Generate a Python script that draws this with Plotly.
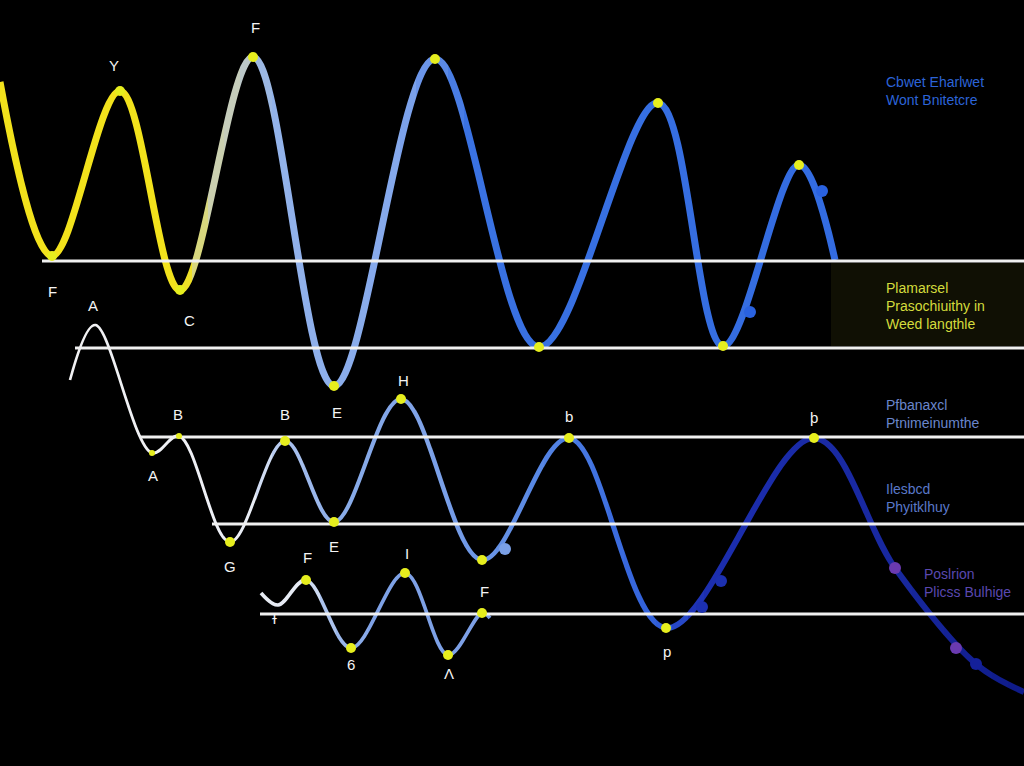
import plotly.graph_objects as go

# ---- data (pixel-space positions) ----
# upper wave: turning points
c1_x = [0, 52, 120, 180, 253, 334, 435, 539, 658, 723, 799, 835]
c1_y = [82, 256, 91, 290, 57, 386, 59, 347, 103, 346, 165, 260]
# colour stops along x (styling only)
c1_stops = [(0, "#f2e21c"), (182, "#f2e21c"), (208, "#cdd2aa"), (245, "#c2cbc4"), (268, "#94b4ea"),
            (400, "#84a8ec"), (470, "#3a72e2"), (1024, "#2f68e0")]

# middle wave
c2_x = [70, 95, 152, 179, 230, 285, 334, 401, 482, 569, 666, 814, 895, 976, 1024]
c2_y = [380, 325, 453, 436, 542, 441, 522, 399, 560, 438, 628, 438, 568, 664, 692]
c2_stops = [(0, "#f2f2f2"), (245, "#eef0f6"), (290, "#aac2ee"), (340, "#8aace8"), (430, "#7ea2e8"),
            (530, "#5a8ae4"), (610, "#3c6ee0"), (665, "#2f5cd8"), (700, "#1c2eb0"), (900, "#18289e"),
            (1024, "#0e1a88")]
c2_width = [(0, 2.5), (250, 3), (320, 4), (600, 5), (700, 6), (1024, 6)]

# lower small wave
c3_x = [261, 278, 306, 351, 405, 448, 482, 490]
c3_y = [593, 605, 580, 648, 573, 655, 613, 618]
c3_stops = [(0, "#eeeeee"), (300, "#e6ebf4"), (330, "#a8c0ec"), (370, "#7fa2e6"), (1024, "#6f96e4")]

# horizontal guide lines
rule_y = [261, 348, 437, 524, 614]
rule_x0 = [42, 75, 140, 212, 260]

# yellow markers at turning points
dot_x = [52, 120, 180, 253, 334, 435, 539, 658, 723, 799,
         230, 285, 334, 401, 482, 569, 666, 814,
         306, 351, 405, 448, 482]
dot_y = [256, 91, 290, 57, 386, 59, 347, 103, 346, 165,
         542, 441, 522, 399, 560, 438, 628, 438,
         580, 648, 573, 655, 613]
small_dot_x = [152, 179]
small_dot_y = [453, 436]

# coloured markers along the lines
mark_x = [750, 822, 505, 702, 721, 895, 956, 976]
mark_y = [312, 191, 549, 607, 581, 568, 648, 664]
mark_c = ["#2a62e0", "#2a62e0", "#7aa0e6", "#1c30b0", "#1c30b0", "#6a3ab0", "#6a3ab0", "#14209a"]

# letter labels
lbl_text = ["F", "Y", "F", "A", "C", "E", "H", "B", "A", "B", "E", "G", "F", "I", "6", "Λ", "F", "b", "þ", "p", "ɫ"]
lbl_x = [255, 114, 52, 93, 189, 337, 403, 178, 153, 285, 334, 230, 307, 407, 351, 449, 484, 569, 814, 667, 274]
lbl_y = [27, 66, 291, 305, 320, 412, 380, 414, 475, 414, 546, 566, 557, 553, 664, 673, 591, 416, 418, 651, 618]

# right side captions
cap_text = ["Cbwet Eharlwet<br>Wont Bnitetcre",
            "Plamarsel<br>Prasochiuithy in<br>Weed langthle",
            "Pfbanaxcl<br>Ptnimeinumthe",
            "Ilesbcd<br>Phyitklhuy",
            "Poslrion<br>Plicss Bulhige"]
cap_x = [884, 884, 884, 884, 922]
cap_y = [91, 306, 414, 498, 583]
cap_c = ["#2c64d8", "#d4dc3c", "#6a86cc", "#5a78c8", "#5a48b0"]

W, H = 1024, 766
BAND = 16


def mix(stops, x):
    # piecewise colour blend between stops
    def rgb(h):
        return [int(h[i:i + 2], 16) for i in (1, 3, 5)]
    for (x0, c0), (x1, c1) in zip(stops, stops[1:]):
        if x0 <= x <= x1:
            t = 0 if x1 == x0 else (x - x0) / (x1 - x0)
            a, b = rgb(c0), rgb(c1)
            return "rgb(%d,%d,%d)" % tuple(round(a[i] + (b[i] - a[i]) * t) for i in range(3))
    return stops[-1][1]


def width_at(stops, x):
    for (x0, w0), (x1, w1) in zip(stops, stops[1:]):
        if x0 <= x <= x1:
            return w0 + (w1 - w0) * (x - x0) / (x1 - x0)
    return stops[-1][1]


def local(xs, ys, a, b):
    # the points that shape the spline inside [a, b] (two neighbours either side)
    idx = [i for i, x in enumerate(xs) if a <= x <= b]
    if idx:
        lo, hi = idx[0], idx[-1]
    else:
        hi = next((i for i, x in enumerate(xs) if x > b), len(xs))
        lo = hi - 1
    lo, hi = max(lo - 2, 0), min(hi + 2, len(xs) - 1)
    return xs[lo:hi + 1], ys[lo:hi + 1]


fig = go.Figure()
layout_axes = {}
edges = list(range(0, W + 1, BAND))
curves = [(c1_x, c1_y, c1_stops, [(0, 7), (1024, 7)]),
          (c2_x, c2_y, c2_stops, c2_width),
          (c3_x, c3_y, c3_stops, [(0, 3.5), (1024, 4)])]

# each vertical band gets its own x axis, so a curve can change colour along x
for k, (a, b) in enumerate(zip(edges, edges[1:])):
    xid = "x" if k == 0 else "x%d" % (k + 1)
    layout_axes["xaxis" if k == 0 else "xaxis%d" % (k + 1)] = dict(
        domain=[a / W, b / W], range=[a, b], visible=False, anchor="y", fixedrange=True)
    mid = (a + b) / 2
    for xs, ys, stops, wst in curves:
        if xs[-1] < a or xs[0] > b:
            continue
        lx, ly = local(xs, ys, a, b)
        fig.add_trace(go.Scatter(x=lx, y=ly, xaxis=xid, yaxis="y", mode="lines",
                                 line=dict(color=mix(stops, mid), width=width_at(wst, mid),
                                           shape="spline", simplify=False),
                                 hoverinfo="skip"))

top = "x%d" % (len(edges))
layout_axes["xaxis%d" % len(edges)] = dict(domain=[0, 1], range=[0, W], visible=False,
                                           anchor="y", fixedrange=True)

for y, x0 in zip(rule_y, rule_x0):
    fig.add_trace(go.Scatter(x=[x0, W], y=[y, y], xaxis=top, yaxis="y", mode="lines",
                             line=dict(color="#f0f0f0", width=3), hoverinfo="skip"))

fig.add_trace(go.Scatter(x=mark_x, y=mark_y, xaxis=top, yaxis="y", mode="markers",
                         marker=dict(color=mark_c, size=12), hoverinfo="skip"))
fig.add_trace(go.Scatter(x=dot_x, y=dot_y, xaxis=top, yaxis="y", mode="markers",
                         marker=dict(color="#e6ee1e", size=10), hoverinfo="skip"))
fig.add_trace(go.Scatter(x=small_dot_x, y=small_dot_y, xaxis=top, yaxis="y", mode="markers",
                         marker=dict(color="#e6ee1e", size=6), hoverinfo="skip"))

for t, x, y in zip(lbl_text, lbl_x, lbl_y):
    fig.add_annotation(x=x / W, y=1 - y / H, xref="paper", yref="paper", text=t, showarrow=False,
                       xanchor="center", yanchor="middle",
                       font=dict(color="#f4f4f4", size=15, family="Liberation Sans"))

for t, x, y, c in zip(cap_text, cap_x, cap_y, cap_c):
    fig.add_annotation(x=x / W, y=1 - y / H, xref="paper", yref="paper", text=t, showarrow=False,
                       xanchor="left", yanchor="middle", align="left",
                       font=dict(color=c, size=14, family="Liberation Sans"))

# dim olive panel behind the yellow caption
fig.add_shape(type="rect", xref="paper", yref="paper", x0=831 / W, x1=1, y0=1 - 346 / H, y1=1 - 263 / H,
              fillcolor="#101004", line=dict(width=0), layer="below")

fig.update_layout(
    width=W, height=H,
    margin=dict(l=0, r=0, t=0, b=0),
    paper_bgcolor="#000000", plot_bgcolor="rgba(0,0,0,0)",
    showlegend=False,
    yaxis=dict(range=[H, 0], visible=False, fixedrange=True),
    **layout_axes,
)

fig.write_html("out.html", config={"displayModeBar": False},
               post_script="document.body.style.margin='0';document.body.style.background='#000';")
